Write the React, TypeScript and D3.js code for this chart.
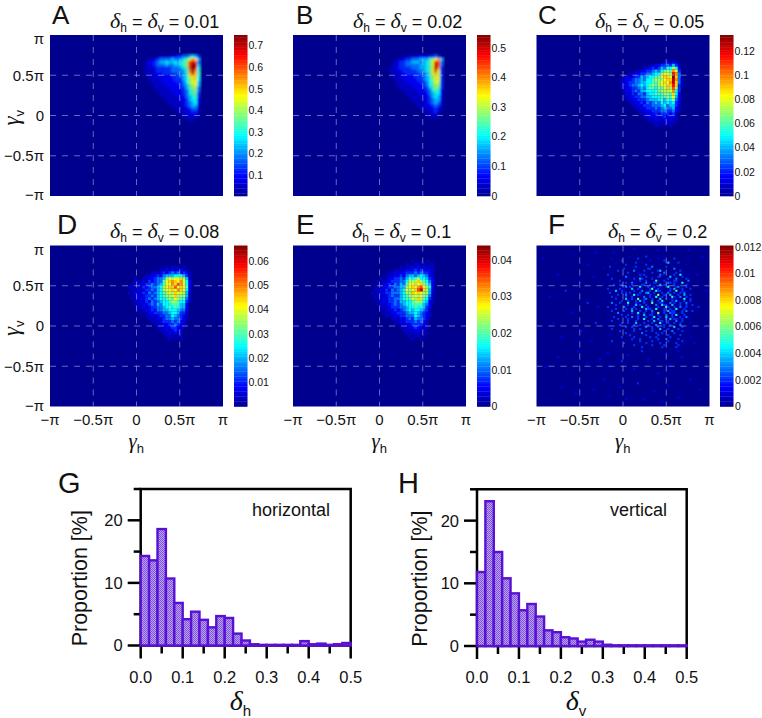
import React from "react";
import * as d3 from "d3";

const SANS = "'Liberation Sans', Arial, sans-serif";
const SERIF = "'Liberation Serif', serif";
const PI = Math.PI;

// Density levels 0-f (steps along each colour bar), one string per row.
const hmA = {
  cols: 60, nrows: 56, row: 7, col: 30, rows: [
    "00000 00011 11223 34456 530",
    "00001 12344 44544 5679b a50",
    "00012 23455 65565 678ce c40",
    "00012 23444 54455 678cf e50",
    "00011 12333 33444 567cf d60",
    "00011 12333 33444 457be b60",
    "00011 12223 33334 456ad a70",
    "00001 11222 22333 45699 a60",
    "00001 11122 22233 35689 a60",
    "00000 11112 22223 34689 950",
    "00000 01111 22222 34578 950",
    "00000 01111 12222 33578 840",
    "00000 00111 11222 23467 840",
    "00000 00011 11122 23467 730",
    "00000 00001 11112 22456 730",
    "00000 00000 11111 22356 620",
    "00000 00000 01111 12345 620",
    "00000 00000 00111 12345 510",
    "00000 00000 00011 11234 410",
    "00000 00000 00001 11223 310",
    "00000 00000 00000 11122 210",
    "00000 00000 00000 01111 100",
    "00000 00000 00000 00011 000",
  ],
};
const hmB = {
  cols: 60, nrows: 56, row: 7, col: 30, rows: [
    "00000 00001 11122 22334 300",
    "00000 01123 34445 55789 b50",
    "00000 12334 45554 5679d c40",
    "00001 12334 44445 5679e c40",
    "00001 12333 34445 5679e b30",
    "00011 12233 33344 5679c 930",
    "00001 11223 33334 4579a 930",
    "00001 11222 22333 45689 930",
    "00000 11122 22233 45689 930",
    "00000 01112 22223 34679 830",
    "00000 01111 12222 34678 830",
    "00000 00111 11222 33578 730",
    "00000 00011 11122 23467 620",
    "00000 00001 11112 22456 620",
    "00000 00000 11111 22356 520",
    "00000 00000 01111 12345 520",
    "00000 00000 00111 12345 410",
    "00000 00000 00011 12234 310",
    "00000 00000 00001 11223 210",
    "00000 00000 00000 11123 100",
    "00000 00000 00000 01112 100",
    "00000 00000 00000 00111 000",
  ],
};
const hmC = {
  cols: 60, nrows: 56, row: 9, col: 27, rows: [
    "00000 00000 00000 00121 21000",
    "00000 00000 00112 23343 53100",
    "00000 00000 11232 35466 86200",
    "00000 00112 23345 46787 b9300",
    "00000 11223 34456 68998 db400",
    "00012 12335 45667 79aa9 fa400",
    "00112 23445 46678 889aa eb410",
    "00112 33445 56677 89a9b ea410",
    "00122 34456 56787 899aa da310",
    "00112 23345 46776 879a8 c8300",
    "00012 23435 56667 78889 b6300",
    "00012 13244 35667 77887 a6200",
    "00011 22334 45566 67787 95200",
    "00001 12233 34555 67576 84200",
    "00000 11223 24345 46565 63200",
    "00000 01122 33344 45645 53100",
    "00000 00112 23334 34544 52100",
    "00000 00011 22233 34433 42100",
    "00000 00001 12223 23332 31000",
    "00000 00000 11222 12322 21000",
    "00000 00000 01112 21212 11000",
    "00000 00000 00011 01111 10000",
    "00000 00000 00001 10101 00000",
  ],
};
const hmD = {
  cols: 60, nrows: 56, row: 7, col: 26, rows: [
    "00000 00000 00001 01110 10 0",
    "00000 00000 00112 12122 11 0",
    "00000 00001 11232 34342 32 1",
    "00000 00112 23245 55666 53 1",
    "00010 01122 34458 9899a 85 1",
    "00011 12132 34479 aba9b 96 2",
    "00102 11334 34579 9bacb 96 2",
    "01102 13234 45689 aac9a 97 2",
    "00112 12334 35689 9a9ba 96 2",
    "01021 23243 45678 98a99 85 1",
    "00112 12334 35678 89a88 85 1",
    "00102 22343 45667 87987 74 1",
    "00011 21324 34566 78876 63 1",
    "00011 12234 35466 67775 52",
    "00001 12123 34456 76765 52",
    "00001 01223 24455 66654 42",
    "00000 10122 33344 56653 31",
    "00000 00112 12334 46543 21",
    "00000 00011 12234 45443 21",
    "00000 00001 11233 34342 2",
    "00000 00000 11122 33432 1",
    "00000 00000 01112 23321 1",
    "00000 00000 00112 12321",
    "00000 00000 00011 21211",
    "00000 00000 00001 11011",
    "00000 00000 00000 10101",
  ],
};
const hmE = {
  cols: 60, nrows: 56, row: 5, col: 26, rows: [
    "00000 00000 00000 10010 10",
    "00000 00000 00010 01101 01 1",
    "00000 00000 01011 21212 11 1",
    "00000 00001 11122 23232 22 1",
    "00000 00112 12233 34343 32 1",
    "00000 01112 23245 54565 42 1",
    "00001 01223 34357 67866 53 2",
    "00010 11233 34468 88a87 64 2",
    "00011 12324 35479 9a9a8 75 2",
    "00101 22334 45589 a9bc9 86 2",
    "00112 13243 45698 9acea 85 2",
    "01012 23344 45688 a9a98 85 1",
    "00112 12343 35678 89898 74 1",
    "00101 22334 45677 98a87 63 1",
    "00011 21334 35566 78886 52 1",
    "00011 12234 34566 77775 42",
    "00001 11233 34456 67665 32",
    "00001 01223 23456 56654 31",
    "00000 11122 33345 56543 21",
    "00000 01112 23344 46543 21",
    "00000 00011 12234 35443 2",
    "00000 00001 12233 34342 1",
    "00000 00001 01122 33332 1",
    "00000 00000 01112 23221 1",
    "00000 00000 00111 12211",
    "00000 00000 00011 11110 1",
    "00000 00000 00001 01101",
    "00000 00000 00000 10010",
  ],
};
const hmF = {
  cols: 86, nrows: 80, row: 5, col: 32, rows: [
    "0000000000000010000000300000000100000000000000",
    "0000010000000000003000000000200000003000000100",
    "0000000000300000000000002000000300000000000000",
    "0000000100000000030010000000000005000030000000",
    "0000000000003000000000300000010000000000001000",
    "0000300000000000130000000400000030010000000000",
    "0100000000030000001000033000000000004000000010",
    "0000000030000000400003000000350000000003000000",
    "0000010000000300001000000300000410000300010000",
    "0003000000100000000323000000041000003006000100",
    "0000000000004200000000300100330000500100300000",
    "0000030000000010300530000300000013000400003100",
    "0000100003000000010300300007000300103300000400",
    "0100000000103004200000400033100004303000600100",
    "0000003003300003000033003100050330003001003000",
    "0000000000004031000600030030020006000340003010",
    "0003000003010005003200003700301000305001300030",
    "0000010500310000300040103006330001300700301000",
    "0000300000303030000300450030003004003103040000",
    "0000000030004010603200003010800330500030050031",
    "0000030100003003000004003006003010073004013000",
    "0100000300005103007003400300050030030200060030",
    "0000010000300300030503000400306000030510030030",
    "0000040003000600031003000700033000403003004010",
    "0000000300000300150300300004006330050013003003",
    "0003000100040000300060030000300073003004003000",
    "0000000300003104030000533006000300300600030010",
    "0000030000030005000300300400000305033000304013",
    "0000000040100003006003000300800300433000300000",
    "0001000000300300003005003300300040030600030000",
    "0000003000003004013000300060030050030003104000",
    "0000000030000300003006000300400030503300300100",
    "0000030000000300030000030050033003000400300000",
    "0000000000300300050003000300060003003003000010",
    "0001000003000000300300030004000300300004000000",
    "0000000000003003000000400300300300005000300100",
    "0000030000000000300300000300050003000030000000",
    "0000000003000000300000300300000300040000300100",
    "0000000000003000000040000003003000003000000000",
    "0000100000000030000000300000300003000003000000",
    "0000000000300000300000003003000000300000000010",
    "0000000000000003000300000000300040000030010000",
    "0000030000000000000300000300000003000000300000",
    "0000000000030000000000300000030000000300010000",
    "0000000000000000300000000300000300000030000000",
    "0000000100000000000030000000003000000300000000",
  ],
};
// Isolated specks of panel F outside its dense part: column, row, level.
const fSpecks = [
  [3,6,2],[10,14,2],[18,4,1],[25,9,2],[29,3,2],[6,25,2],[14,22,3],[21,18,2],[28,15,2],[30,30,2],[25,28,3],[17,33,2],
  [8,38,2],[2,42,1],[12,45,2],[22,42,2],[29,38,3],[27,47,2],[20,52,2],[10,55,2],[4,60,2],[15,62,1],[25,58,2],[31,56,2],
  [36,60,2],[42,57,3],[48,61,2],[55,56,2],[60,63,2],[66,59,2],[72,55,2],[78,48,2],[83,40,2],[80,30,3],[84,22,2],[79,14,2],
  [82,5,2],[75,2,2],[60,2,2],[48,1,2],[38,3,2],[33,66,2],[41,70,2],[50,68,3],[58,72,2],[65,69,2],[70,75,2],[44,76,2],
  [36,74,1],[28,71,2],[19,73,2],[12,70,2],[6,76,1],[53,76,2],[62,77,2],[76,66,2],[81,71,2],[35,53,2],[45,54,2],[52,52,3],
  [64,53,2],[70,52,2],
];
const levelFractions = [0, 0.06, 0.11, 0.17, 0.24, 0.31, 0.38, 0.45, 0.53, 0.6, 0.667, 0.733, 0.8, 0.867, 0.933, 1];

const maxes = [0.749, 0.543, 0.133, 0.0665, 0.0439, 0.0121];
const minsBar = [0.003, 0, 0, 0, 0, 0];
const cbTicksA = [0.1, 0.2, 0.3, 0.4, 0.5, 0.6, 0.7];
const cbTicksB = [0, 0.1, 0.2, 0.3, 0.4, 0.5];
const cbTicksC = [0, 0.02, 0.04, 0.06, 0.08, 0.1, 0.12];
const cbTicksD = [0.01, 0.02, 0.03, 0.04, 0.05, 0.06];
const cbTicksE = [0, 0.01, 0.02, 0.03, 0.04];
const cbTicksF = [0, 0.002, 0.004, 0.006, 0.008, 0.01, 0.012];
const panelLetters = ["A", "B", "C", "D", "E", "F"];
const deltaLabels = ["0.01", "0.02", "0.05", "0.08", "0.1", "0.2"];
const piTicks = [-PI, -0.5 * PI, 0, 0.5 * PI, PI];
const piLabels = ["\u2212\u03c0", "\u22120.5\u03c0", "0", "0.5\u03c0", "\u03c0"];

const propH = [14.3, 13.6, 18.6, 10.7, 6.8, 4.2, 5.4, 4.1, 2.9, 4.7, 4.4, 1.9, 0.8, 0.2, 0.1, 0.1, 0.1, 0.1, 0.1, 0.7, 0.2, 0.3, 0.1, 0.2, 0.4];
const propV = [11.8, 23.1, 15.0, 10.8, 8.4, 5.7, 6.7, 4.7, 2.5, 2.2, 1.4, 1.2, 0.7, 1.0, 0.7, 0.2, 0.1, 0.1, 0.1, 0.1, 0.1, 0.1, 0.1, 0.1, 0.1];
const histXTicks = [0, 0.1, 0.2, 0.3, 0.4, 0.5];
const histXMinor = [0.05, 0.15, 0.25, 0.35, 0.45];
const histYTicks = [0, 10, 20];
const histYMinor = [5, 15, 25];

const jet = d3.scaleLinear<string>()
  .domain([0, 0.125, 0.375, 0.625, 0.875, 1])
  .range(["#00008f", "#0000ff", "#00ffff", "#ffff00", "#ff0000", "#800000"])
  .clamp(true);

const layouts = [
  { x: 50, y: 35, cbx: 234, lx: 52, tx: 110, tb: 28 },
  { x: 293, y: 35, cbx: 477, lx: 296, tx: 353, tb: 28 },
  { x: 536.5, y: 35, cbx: 720, lx: 538, tx: 595, tb: 28 },
  { x: 50, y: 245.5, cbx: 234, lx: 57, tx: 110, tb: 238 },
  { x: 293, y: 245.5, cbx: 477, lx: 296, tx: 352, tb: 238 },
  { x: 536.5, y: 245.5, cbx: 720, lx: 548, tx: 608, tb: 238 },
];
const W = 173;
const H = 161;
const heatmaps = [hmA, hmB, hmC, hmD, hmE, hmF];
const cbTicks = [cbTicksA, cbTicksB, cbTicksC, cbTicksD, cbTicksE, cbTicksF];
const blurIds = ["blurA", "blurA", "blurC", "blurC", "blurC", "blurF"];

function Sym({ g, sub, size, subSize, x, y, rotate }: any) {
  return (
    <text x={x} y={y} transform={rotate ? `rotate(-90 ${x} ${y})` : undefined} fontFamily={SANS} fill="#111">
      <tspan fontFamily={SERIF} fontStyle="italic" fontSize={size}>{g}</tspan>
      <tspan fontSize={subSize} dy={subSize * 0.38}>{sub}</tspan>
    </text>
  );
}

function Heat({ i }: { i: number }) {
  const L = layouts[i];
  const hm = heatmaps[i];
  const sx = d3.scaleLinear().domain([0, hm.cols]).range([L.x, L.x + W]);
  const sy = d3.scaleLinear().domain([0, hm.nrows]).range([L.y, L.y + H]);
  const gx = d3.scaleLinear().domain([-PI, PI]).range([L.x, L.x + W]);
  const gy = d3.scaleLinear().domain([-PI, PI]).range([L.y + H, L.y]);
  const cb = d3.scaleLinear().domain([minsBar[i], maxes[i]]).range([L.y + H, L.y]);
  const color = (lv: number) => jet(levelFractions[lv]);
  const cw = W / hm.cols;
  const ch = H / hm.nrows;
  const cells: React.ReactNode[] = [];
  hm.rows.forEach((raw, r) => {
    raw.replace(/ /g, "").split("").forEach((c, k) => {
      const lv = parseInt(c, 16);
      if (!lv) return;
      cells.push(
        <rect key={`${r}-${k}`} x={sx(hm.col + k)} y={sy(hm.row + r)} width={cw + 0.1} height={ch + 0.1} fill={color(lv)} />
      );
    });
  });
  if (i === 5) {
    fSpecks.forEach(([c, r, lv], k) => {
      cells.push(<rect key={`s${k}`} x={sx(c)} y={sy(r)} width={cw} height={ch} fill={color(lv)} />);
    });
  }
  const steps = d3.range(64);
  const isBottom = i >= 3;
  const isLeft = i === 0 || i === 3;
  return (
    <g>
      <clipPath id={`clip${i}`}><rect x={L.x} y={L.y} width={W} height={H} /></clipPath>
      <g clipPath={`url(#clip${i})`}>
        <g filter={`url(#${blurIds[i]})`}>
          <rect x={L.x - 6} y={L.y - 6} width={W + 12} height={H + 12} fill="#00008f" />
          {cells}
        </g>
        {piTicks.slice(1, 4).map((t) => (
          <line key={`v${t}`} x1={gx(t)} x2={gx(t)} y1={L.y} y2={L.y + H} stroke="#b9bce6" strokeOpacity={0.55} strokeWidth={1} strokeDasharray="6 6" />
        ))}
        {piTicks.slice(1, 4).map((t) => (
          <line key={`h${t}`} y1={gy(t)} y2={gy(t)} x1={L.x} x2={L.x + W} stroke="#b9bce6" strokeOpacity={0.55} strokeWidth={1} strokeDasharray="6 6" />
        ))}
      </g>
      {steps.map((k) => (
        <rect key={k} x={L.cbx} y={L.y + H - (k + 1) * H / 64} width={13.5} height={H / 64 + 0.3} fill={jet((k + 0.5) / 64)} />
      ))}
      {cbTicks[i].map((t) => (
        <text key={t} x={L.cbx + (i === 5 ? 15 : 14.5)} y={cb(t)} dy="0.36em" fontFamily={SANS} fontSize={10.5} fill="#111">{String(t)}</text>
      ))}
      <text x={L.lx} y={i < 3 ? 23.5 : 234} fontFamily={SANS} fontSize={i < 3 ? 26 : 28} fill="#111">{panelLetters[i]}</text>
      <text x={L.tx} y={L.tb} fontFamily={SANS} fontSize={18} fill="#111">
        <tspan fontFamily={SERIF} fontStyle="italic" fontSize={22}>{"\u03b4"}</tspan>
        <tspan fontSize={12} dy={4}>h</tspan>
        <tspan dy={-4}>{" = "}</tspan>
        <tspan fontFamily={SERIF} fontStyle="italic" fontSize={22}>{"\u03b4"}</tspan>
        <tspan fontSize={12} dy={4}>v</tspan>
        <tspan dy={-4}>{` = ${deltaLabels[i]}`}</tspan>
      </text>
      {isLeft && piTicks.map((t, k) => (
        <text key={t} x={L.x - 6} y={gy(t) + (k === 4 ? 4 : k === 0 ? -1 : 0)} dy="0.36em" textAnchor="end" fontFamily={SANS} fontSize={15} fill="#111">{piLabels[k]}</text>
      ))}
      {isLeft && <Sym g={"\u03b3"} sub="v" size={23} subSize={13} x={19} y={L.y + H / 2 + 10} rotate />}
      {isBottom && piTicks.map((t, k) => (
        <text key={t} x={gx(t)} y={425} textAnchor="middle" fontFamily={SANS} fontSize={15} fill="#111">{piLabels[k]}</text>
      ))}
      {isBottom && <Sym g={"\u03b3"} sub="h" size={21} subSize={13} x={L.x + W / 2 - 8} y={448} />}
    </g>
  );
}

function Hist({ x0, x1, y0, yTop, values, note, noteX, sub, yLabelX, letter, letterX }: any) {
  const sx = d3.scaleLinear().domain([0, 0.5]).range([x0, x1]);
  const sy = d3.scaleLinear().domain([0, 25]).range([y0, yTop]);
  const binW = 0.02;
  return (
    <g>
      <path d={`M${x0},${y0} V${yTop} H${x1} V${y0}`} fill="none" stroke="#000" strokeWidth={2.5} />
      {histYTicks.map((t: number) => (
        <g key={t}>
          <line x1={x0 - 13} x2={x0} y1={sy(t)} y2={sy(t)} stroke="#000" strokeWidth={2.5} />
          <text x={x0 - 18} y={sy(t)} dy="0.36em" textAnchor="end" fontFamily={SANS} fontSize={16.5} fill="#111">{t}</text>
        </g>
      ))}
      {histYMinor.map((t: number) => (
        <line key={t} x1={x0 - 7} x2={x0} y1={sy(t)} y2={sy(t)} stroke="#000" strokeWidth={2.5} />
      ))}
      <line x1={x0} x2={x1} y1={y0} y2={y0} stroke="#000" strokeWidth={2.5} />
      {histXTicks.map((t: number) => (
        <g key={t}>
          <line x1={sx(t)} x2={sx(t)} y1={y0} y2={y0 + 13} stroke="#000" strokeWidth={2.5} />
          <text x={sx(t)} y={683} textAnchor="middle" fontFamily={SANS} fontSize={16.5} fill="#111">{t.toFixed(1)}</text>
        </g>
      ))}
      {histXMinor.map((t: number) => (
        <line key={t} x1={sx(t)} x2={sx(t)} y1={y0} y2={y0 + 8} stroke="#000" strokeWidth={2.5} />
      ))}
      {values.map((v: number, i: number) => (
        <rect key={i} x={sx(i * binW)} y={sy(v)} width={sx(binW) - sx(0)} height={y0 - sy(v)} fill="url(#hatch)" stroke="#5a10d4" strokeWidth={2.4} />
      ))}
      <text x={noteX} y={516} fontFamily={SANS} fontSize={18} fill="#111">{note}</text>
      <text transform={`translate(${yLabelX},${(y0 + yTop) / 2 + 11}) rotate(-90)`} textAnchor="middle" fontFamily={SANS} fontSize={21.5} fill="#111">Proportion [%]</text>
      <text x={letterX} y={493} fontFamily={SANS} fontSize={29} fill="#111">{letter}</text>
      <Sym g={"\u03b4"} sub={sub} size={28} subSize={15} x={(x0 + x1) / 2 - 16} y={710} />
    </g>
  );
}

export default function App() {
  return (
    <svg width={762} height={718} viewBox="0 0 762 718" style={{ position: "absolute", left: 0, top: 0, background: "#fff" }}>
      <defs>
        <filter id="blurA" x="-5%" y="-5%" width="110%" height="110%"><feGaussianBlur stdDeviation="0.8" /></filter>
        <filter id="blurC" x="-5%" y="-5%" width="110%" height="110%"><feGaussianBlur stdDeviation="0.55" /></filter>
        <filter id="blurF" x="-5%" y="-5%" width="110%" height="110%"><feGaussianBlur stdDeviation="0.25" /></filter>
        <pattern id="hatch" width="2" height="2" patternUnits="userSpaceOnUse">
          <rect width="2" height="2" fill="#b9a2ef" />
          <rect width="1" height="1" fill="#7f55dd" />
          <rect x="1" y="1" width="1" height="1" fill="#7f55dd" />
        </pattern>
      </defs>
      {layouts.map((_, i) => <Heat key={i} i={i} />)}
      <Hist x0={140.7} x1={350.7} y0={645.5} yTop={489} values={propH} note="horizontal" noteX={252} sub="h" yLabelX={87} letter="G" letterX={58} />
      <Hist x0={477} x1={686.7} y0={646} yTop={489.3} values={propV} note="vertical" noteX={610} sub="v" yLabelX={427} letter="H" letterX={398} />
    </svg>
  );
}
